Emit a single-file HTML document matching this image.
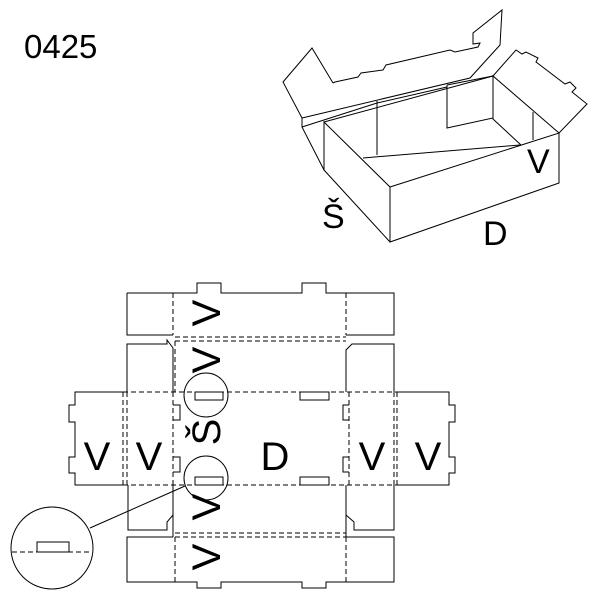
<!DOCTYPE html>
<html><head><style>body{margin:0;background:#fff}svg{display:block}text{font-family:"Liberation Sans",sans-serif;fill:#000}</style></head><body>
<svg width="600" height="600" viewBox="0 0 600 600" xmlns="http://www.w3.org/2000/svg">
<g fill="none" stroke="#000" stroke-width="1">
<polyline points="390,187 559,133 559,183 390,242 390,187 324,122 324,170 390,242"/>
<polyline points="559,133 493,76 493,119 521,145"/>
<line x1="363" y1="158" x2="520" y2="145"/>
<line x1="377" y1="101" x2="377" y2="155"/>
<line x1="533" y1="112" x2="533" y2="140"/>
<polyline points="324,122 493,76"/>
<polyline points="302,127 377,103 447,87"/>
<polyline points="447,85 493,76 493,118 447,128 447,85"/>
<polyline points="302,118 302,127 324,170"/>
<polyline points="302,118 283,82 312,48 333,83"/>
<polyline points="302,118 470,78 500,45 502,10 473,33 473,44 480,43 478,47 455,52 450,50 386,65 383,70 361,73 358,77 335,82 333,83"/>
<polyline points="493,76 516,50 522,54 526,52 538,58 536,62 565,84 570,82 576,88 572,92 587,104 559,133"/>
<polyline points="127,293 197,293 197,283 221,283 221,293 302,293 302,283 326,283 326,293 394,293 394,335 346,335"/>
<polyline points="173,335 127,335 127,293"/>
<polyline points="173,392 173,348 167,340 167,344 127,344 127,392"/>
<polyline points="346,392 346,350 352,344 394,344 394,392"/>
<polyline points="123,392 75,392 75,405 69,405 69,422 75,422 75,457 69,457 69,473 75,473 75,485 123,485"/>
<polyline points="397,392 449,392 449,405 455,405 455,422 449,422 449,457 455,457 455,473 449,473 449,485 397,485"/>
<polyline points="128,485 128,530 167,530 167,522 173,515"/>
<polyline points="173,485 173,537"/>
<polyline points="346,485 346,537"/>
<polyline points="394,485 394,530 354,530 354,522 346,515"/>
<polyline points="173,537 127,537 127,582 197,582 197,588 221,588 221,582 302,582 302,588 326,588 326,582 394,582 394,537 346,537"/>
<rect x="195" y="392" width="28" height="8"/><rect x="300" y="392" width="29" height="8"/>
<rect x="195" y="477" width="28" height="8"/><rect x="300" y="477" width="29" height="8"/>
<polyline points="173,405 180,405 180,420 173,420"/><polyline points="173,457 180,457 180,472 173,472"/>
<polyline points="349,405 343,405 343,420 349,420"/><polyline points="349,457 343,457 343,472 349,472"/>
<circle cx="206" cy="395" r="22"/><circle cx="206" cy="478" r="22"/>
<circle cx="52" cy="548" r="41"/>
<rect x="37" y="542" width="32" height="10"/>
<line x1="90" y1="528" x2="185" y2="486"/>
</g>
<g fill="none" stroke="#000" stroke-width="1" stroke-dasharray="5,3">
<line x1="173" y1="293" x2="173" y2="335"/><line x1="346" y1="293" x2="346" y2="335"/>
<line x1="175" y1="337" x2="346" y2="337"/><line x1="175" y1="341" x2="346" y2="341"/>
<line x1="175" y1="341" x2="175" y2="392"/>
<line x1="123" y1="392" x2="397" y2="392"/><line x1="123" y1="485" x2="397" y2="485"/>
<line x1="123" y1="392" x2="123" y2="485"/><line x1="127" y1="392" x2="127" y2="485"/>
<line x1="173" y1="392" x2="173" y2="485"/>
<line x1="349" y1="392" x2="349" y2="485"/>
<line x1="394" y1="392" x2="394" y2="485"/><line x1="397" y1="392" x2="397" y2="485"/>
<line x1="175" y1="533" x2="346" y2="533"/><line x1="175" y1="537" x2="346" y2="537"/>
<line x1="175" y1="537" x2="175" y2="582"/><line x1="346" y1="537" x2="346" y2="582"/>
<line x1="12" y1="552" x2="92" y2="552"/>
</g>
<text x="24" y="58" font-size="33">0425</text>
<text x="322" y="228" font-size="34">Š</text>
<text x="483" y="245" font-size="34">D</text>
<text x="527" y="173" font-size="34">V</text>
<g font-size="40" text-anchor="middle">
<text x="97" y="470">V</text><text x="149" y="470">V</text>
<text x="372" y="470">V</text><text x="428" y="470">V</text>
<text x="275" y="470">D</text>
<text transform="translate(220,313) rotate(-90)">V</text>
<text transform="translate(220,360) rotate(-90)">V</text>
<text transform="translate(220,432) rotate(-90)">Š</text>
<text transform="translate(220,507) rotate(-90)">V</text>
<text transform="translate(220,557) rotate(-90)">V</text>
</g>
</svg>
</body></html>
